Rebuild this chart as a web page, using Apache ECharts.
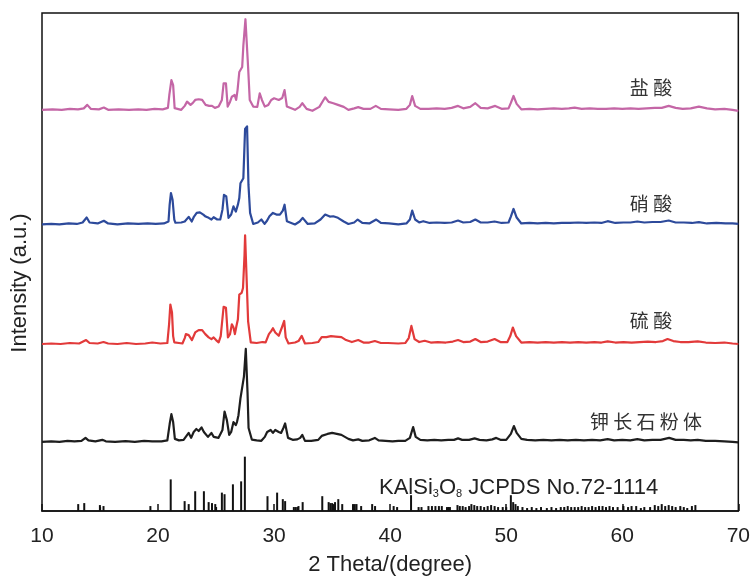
<!DOCTYPE html>
<html>
<head>
<meta charset="utf-8">
<script src="https://cdn.jsdelivr.net/npm/echarts@6/dist/echarts.min.js"></script>
<style>html,body{margin:0;padding:0;background:#fff}#c{width:753px;height:581px}</style>
</head>
<body>
<div id="c"></div>
<script>
// ---- data: [2theta, relative intensity] ----
const xTicks = [10, 20, 30, 40, 50, 60, 70];
const seriesNames = ['盐酸', '硝酸', '硫酸', '钾长石粉体'];
const offsets = [406, 290, 169, 70];

const hcl = [[10,0],[10.9,0.5],[11.7,0],[12.4,1],[13.1,0.5],[13.6,1.5],[13.9,5],[14.2,1],[14.9,0.5],[15.33,2.3],[15.7,0],[16.6,0.5],[17.5,0],[18.3,0.5],[19.0,0],[19.7,1],[20.4,0.5],[20.85,2],[20.97,15],[21.15,30],[21.3,25],[21.43,1.7],[22.0,0],[22.3,4],[22.5,8.3],[22.8,5],[23.0,7],[23.2,10],[23.5,10.7],[23.8,10],[24.1,5],[24.4,4],[24.65,4],[24.9,2],[25.22,3.3],[25.5,10],[25.65,26.7],[25.85,26.7],[26.0,3.3],[26.2,8],[26.36,13.3],[26.6,15],[26.73,10],[26.85,20],[27.0,38.3],[27.25,43.3],[27.35,65],[27.53,91.7],[27.7,90],[27.76,43],[27.9,10],[28.2,3.3],[28.55,3],[28.76,16.7],[28.95,10],[29.2,3.3],[29.5,5],[29.75,10],[30.0,11.7],[30.4,10],[30.7,12],[30.9,20],[31.1,3.3],[31.8,0],[32.2,3],[32.43,6.7],[32.8,1],[33.3,-1],[33.9,3],[34.4,12.7],[34.7,8],[35.1,6.7],[35.5,5],[36.0,3],[36.4,0],[36.9,1.5],[37.25,2.7],[37.7,1],[38.3,1],[38.76,4],[39.2,1],[39.9,0.5],[40.7,0],[41.4,1],[41.7,5],[41.9,14],[42.15,4],[42.6,1],[43.3,1],[44.0,1.5],[44.7,1],[45.3,2],[45.85,4],[46.3,1.5],[46.9,3],[47.34,6.7],[47.8,2],[48.4,1.5],[49.05,4],[49.6,1],[50.2,1.5],[50.4,7],[50.63,14],[50.9,6],[51.3,0.5],[52.0,1],[52.7,0.5],[53.4,1],[54.1,1.5],[54.8,1],[55.4,1.5],[55.9,2.3],[56.5,1],[57.2,1.5],[57.9,1],[58.6,1],[59.3,1.5],[60.0,1],[60.7,1.5],[61.4,1],[62.1,1.5],[62.8,2],[63.4,2],[64.0,4],[64.6,2],[65.2,1],[65.9,1.5],[66.6,3.3],[67.3,1.5],[68.0,0.5],[68.8,1],[69.5,0],[70,-1]];

const hno3 = [[10,0],[10.8,0.5],[11.5,0],[12.3,1],[13.0,0.5],[13.5,2],[13.85,7],[14.1,2],[14.8,1],[15.33,3.7],[15.7,1],[16.5,0],[17.4,1],[18.3,0.5],[19.1,1],[19.8,0.5],[20.5,1],[20.9,3],[21.0,20],[21.11,31.7],[21.25,25],[21.4,5],[21.5,1.7],[22.0,2],[22.3,3],[22.64,7.7],[22.9,3],[23.1,8],[23.33,11.7],[23.6,12.3],[23.9,10],[24.1,8],[24.36,6.7],[24.6,5],[24.79,7.3],[25.1,5],[25.36,5],[25.55,15],[25.68,30],[25.88,28.3],[26.07,6.7],[26.3,10],[26.5,18.3],[26.7,13],[26.88,20],[27.0,26.7],[27.1,41.7],[27.35,46.7],[27.45,80],[27.5,96.7],[27.67,99.3],[27.79,40],[27.93,11.7],[28.2,0.5],[28.6,2],[28.9,5],[29.18,0.5],[29.4,4],[29.6,8.3],[29.9,11.7],[30.2,10],[30.5,10],[30.75,14],[30.9,20],[31.1,3.3],[31.8,0],[32.2,3],[32.46,6.7],[32.9,0.5],[33.5,1],[34.0,5],[34.4,10],[34.8,8],[35.1,8.3],[35.5,6.7],[36.0,3],[36.4,0.5],[36.9,2],[37.2,5],[37.6,1.5],[38.2,1],[38.8,5],[39.2,1.5],[39.9,1],[40.7,0],[41.4,1],[41.7,5],[41.9,14],[42.15,5],[42.5,2],[42.85,3.3],[43.4,1.5],[44.0,2],[44.7,1.5],[45.3,2],[45.85,4],[46.3,2],[46.9,2.5],[47.34,5],[47.8,2],[48.4,2],[49.0,3],[49.6,1.5],[50.2,2],[50.4,8],[50.63,15.7],[50.9,7],[51.3,1],[52.0,1.5],[52.7,1],[53.4,1.5],[54.1,1],[54.8,1.5],[55.5,1.5],[56.2,2],[56.9,1.5],[57.6,2],[58.2,1.5],[58.74,3.3],[59.4,1.5],[60.1,2],[60.7,2],[61.3,3],[61.9,2],[62.6,2.5],[63.3,2.5],[64.0,4],[64.6,2],[65.3,2],[66.0,1.5],[66.6,2.3],[67.3,1],[68.1,1.5],[68.9,1],[69.5,1],[70,0.5]];

const h2so4 = [[10,0],[10.8,0.5],[11.6,0],[12.4,1],[13.2,0.5],[13.8,4],[14.1,1],[14.8,0.5],[15.3,2],[15.7,0.5],[16.5,0],[17.3,1],[18.1,0],[18.9,0.5],[19.5,1.5],[20.2,0.5],[20.8,1],[20.95,20],[21.06,40],[21.2,32],[21.3,8],[21.4,1.7],[21.8,1],[22.1,0.5],[22.3,6],[22.4,10],[22.64,9],[22.92,4],[23.2,11.7],[23.5,14],[23.65,12],[23.8,14],[24.07,10],[24.36,6.7],[24.6,5],[24.79,6.7],[25.0,4],[25.22,1.7],[25.4,8],[25.5,20],[25.65,37.7],[25.85,36.7],[26.02,6.7],[26.2,10],[26.36,20],[26.5,16.7],[26.62,10],[26.75,18],[26.88,25],[27.0,50],[27.2,51.7],[27.32,56.7],[27.45,90],[27.5,110],[27.67,110],[27.76,23],[27.99,1.7],[28.5,1],[29.0,2],[29.27,1.7],[29.55,10],[29.75,13],[29.9,16],[30.1,11.7],[30.4,8.3],[30.67,16.7],[30.87,23.3],[31.0,6.7],[31.24,0.5],[31.8,1.5],[32.1,3],[32.38,8.3],[32.66,0.5],[33.3,1],[33.8,2],[34.1,7],[34.5,7],[34.9,8],[35.3,7.5],[35.8,7],[36.2,4],[36.7,2],[37.25,4],[37.7,1.5],[38.2,1.5],[38.68,3],[39.2,1],[39.8,1],[40.7,0.5],[41.3,1],[41.6,6],[41.83,18.3],[42.1,5],[42.5,2],[42.98,3.3],[43.5,1.5],[44.1,2],[44.8,1.5],[45.4,2.5],[45.85,4],[46.3,2],[46.9,2.5],[47.34,5],[47.8,2],[48.4,2.5],[49.0,5],[49.5,2],[50.1,2],[50.35,8],[50.57,16.7],[50.85,8],[51.3,1.5],[52.0,2],[52.7,1.5],[53.4,2],[54.1,1.5],[54.8,2],[55.5,1.5],[56.2,2],[56.9,1.5],[57.6,2],[58.2,1.5],[58.74,2.7],[59.4,1.5],[60.1,2],[60.8,1.5],[61.5,2],[62.2,2.5],[62.9,2],[63.5,3],[63.9,5],[64.4,3],[65.0,2],[65.7,2],[66.5,2.7],[67.2,1.5],[68.0,1],[68.8,1.5],[69.5,0.5],[70,0]];

const feldspar = [[10,0],[10.8,0.5],[11.5,0],[12.2,1],[12.8,0.5],[13.4,1],[13.75,4],[14.0,1.5],[14.6,0.5],[15.2,2],[15.5,0.5],[16.3,0],[17.2,0.8],[18.0,0],[18.8,1],[19.5,0.5],[20.3,0.5],[20.8,1.5],[21.0,18],[21.15,28],[21.3,20],[21.45,3],[21.8,1.5],[22.2,2],[22.45,6],[22.64,9],[22.85,4],[23.07,10],[23.3,13],[23.5,11],[23.75,14.6],[23.95,10],[24.1,9],[24.3,5],[24.6,9],[24.8,5],[24.95,7],[25.2,4],[25.36,4],[25.55,12],[25.73,30.7],[25.93,22],[26.13,7],[26.3,10],[26.5,20],[26.7,17],[26.8,20],[26.93,27],[27.1,44],[27.25,45],[27.4,66],[27.56,94],[27.71,50],[27.8,14],[28.08,2.3],[28.5,1.5],[28.9,1],[29.2,5],[29.4,10],[29.7,12],[29.9,9],[30.1,12],[30.4,10],[30.6,9],[30.8,14],[30.95,18.6],[31.2,4],[31.6,2],[32.0,2.5],[32.25,4],[32.43,7],[32.66,1],[33.2,1],[33.8,2],[34.1,6],[34.6,8],[35.0,9],[35.4,8],[35.8,7],[36.1,5],[36.4,3],[36.8,1.5],[37.25,2.5],[37.6,1],[38.2,1.5],[38.68,4],[39.0,1.5],[39.6,1],[40.2,0.5],[40.7,1],[41.3,1],[41.7,4],[41.98,15],[42.2,5],[42.6,2],[43.2,1.5],[43.8,2],[44.4,1.5],[45.0,2],[45.5,2],[45.85,3.5],[46.2,2],[46.8,2],[47.28,3.5],[47.7,2],[48.3,1.5],[48.8,2.5],[49.14,4],[49.5,2],[50.0,2],[50.4,8],[50.66,16],[50.9,9],[51.3,3],[51.8,2],[52.5,1.5],[53.2,2],[53.9,1.5],[54.6,2],[55.3,1.5],[56.0,2],[56.7,1.5],[57.4,2],[58.1,1.5],[58.74,2.7],[59.3,1.5],[60.0,2],[60.7,1.5],[61.3,2.7],[61.9,1.5],[62.6,2],[63.3,2],[64.04,4],[64.6,2],[65.3,2],[65.9,1.5],[66.5,2],[67.2,1],[68.0,1],[68.8,0.5],[69.5,0],[70,-0.5]];

// JCPDS No.72-1114 reference sticks: [2theta, relative height]
const jcpds = [[13.12,7],[13.64,8],[14.99,6],[15.3,5],[19.34,5],[21.09,32],[22.29,10],[22.64,7],[23.2,20],[23.95,20],[24.36,9],[24.65,8],[24.93,7],[25.5,18.6],[25.73,17],[26.45,27],[27.16,30],[27.48,55],[29.43,15],[30.26,18.6],[30.75,12],[30.95,10],[31.7,4],[31.85,4],[32.0,4],[32.1,5],[32.46,9],[34.15,15],[34.7,9],[34.85,8],[35.0,8],[35.15,7],[35.25,9],[35.53,12],[35.87,7],[36.8,7],[36.95,7],[37.1,7],[37.5,5],[38.45,7],[38.7,5],[40.3,5],[40.6,4],[41.8,16],[42.45,4],[42.7,4],[43.3,5],[43.6,5],[43.9,5],[44.2,5],[44.45,5],[44.9,4],[45.15,4],[45.8,6],[46.0,5],[46.25,5],[46.5,4],[46.8,5],[47.0,7],[47.25,6],[47.5,5],[47.8,5],[48.1,4],[48.4,5],[48.7,6],[49.0,5],[49.3,4],[49.7,4],[50.0,4],[50.4,16],[50.6,9],[50.8,7],[51.0,5],[51.4,4],[51.8,3],[52.2,4],[52.6,3],[53.0,4],[53.5,3],[53.9,4],[54.3,3],[54.7,4],[55.0,4],[55.3,5],[55.6,4],[55.9,4],[56.2,4],[56.5,5],[56.8,4],[57.1,4],[57.4,5],[57.7,4],[58.0,5],[58.3,5],[58.6,4],[58.9,5],[59.2,4],[59.6,4],[60.1,5],[60.5,4],[60.8,5],[61.2,5],[61.6,3],[61.9,4],[62.4,4],[62.8,6],[63.1,5],[63.4,7],[63.7,5],[64.0,6],[64.3,5],[64.6,4],[65.0,5],[65.3,4],[65.6,3],[66.0,5],[66.3,6]];

const colors = ['#c466a6', '#2d4a9b', '#e23a3a', '#1e1e1e'];
const patterns = [hcl, hno3, h2so4, feldspar];

const chart = echarts.init(document.getElementById('c'), null, {renderer: 'canvas'});
const FONT = '"Liberation Sans", Arial, sans-serif';
const CJK = '"Noto Sans CJK SC", sans-serif';

const lineSeries = patterns.map((p, i) => ({
  name: seriesNames[i],
  type: 'line',
  data: p.map(d => [d[0], d[1] + offsets[i]]),
  showSymbol: false,
  symbol: 'none',
  lineStyle: {color: colors[i], width: 2.2, join: 'round'},
  z: 3
}));

const stickSeries = {
  type: 'custom',
  data: jcpds,
  renderItem: function (params, api) {
    const x = api.value(0), h = api.value(1);
    const p0 = api.coord([x, 0]);
    const p1 = api.coord([x, h]);
    return {type: 'line', shape: {x1: p0[0], y1: p0[1], x2: p1[0], y2: p1[1]},
            style: {stroke: '#111', lineWidth: 2}};
  },
  z: 2
};

chart.setOption({
  animation: false,
  backgroundColor: '#fff',
  grid: {left: 42, right: 12, top: 13, bottom: 64, show: true, borderColor: '#111', borderWidth: 1.5, backgroundColor: 'transparent'},
  xAxis: {
    type: 'value', min: xTicks[0], max: xTicks[xTicks.length - 1], interval: 10,
    axisLine: {lineStyle: {color: '#111', width: 1.5}},
    axisTick: {inside: true, length: 7, lineStyle: {color: '#111', width: 1.5}},
    minorTick: {show: true, splitNumber: 2, length: 4, lineStyle: {color: '#111', width: 1.2}},
    splitLine: {show: false},
    axisLabel: {color: '#222', fontSize: 21, fontFamily: FONT, margin: 15},
    name: '2 Theta/(degree)', nameLocation: 'middle', nameGap: 43,
    nameTextStyle: {color: '#222', fontSize: 22, fontFamily: FONT}
  },
  yAxis: {
    type: 'value', min: 0, max: 504, show: false
  },
  series: lineSeries.concat([stickSeries]),
  graphic: [
    {type: 'text', x: 20, y: 283, rotation: Math.PI / 2,
     style: {text: 'Intensity (a.u.)', fontSize: 22, fontFamily: FONT, fill: '#222', align: 'center', verticalAlign: 'middle'}},
    {type: 'text', x: 651, y: 88, style: {text: '盐 酸', fontSize: 19, fontFamily: CJK, fill: '#333', align: 'center', verticalAlign: 'middle'}},
    {type: 'text', x: 651, y: 204, style: {text: '硝 酸', fontSize: 19, fontFamily: CJK, fill: '#333', align: 'center', verticalAlign: 'middle'}},
    {type: 'text', x: 651, y: 321, style: {text: '硫 酸', fontSize: 19, fontFamily: CJK, fill: '#333', align: 'center', verticalAlign: 'middle'}},
    {type: 'text', x: 646, y: 422, style: {text: '钾 长 石 粉 体', fontSize: 19, fontFamily: CJK, fill: '#333', align: 'center', verticalAlign: 'middle'}},
    {type: 'text', x: 379, y: 475,
     style: {
       text: '{a|KAlSi}{s|3}{a|O}{s|8}{a| JCPDS No.72-1114}',
       rich: {
         a: {fontSize: 22, fontFamily: FONT, fill: '#222', lineHeight: 24, verticalAlign: 'bottom'},
         s: {fontSize: 11, fontFamily: FONT, fill: '#222', lineHeight: 24, verticalAlign: 'bottom'}
       }
     }}
  ]
});
</script>
</body>
</html>
